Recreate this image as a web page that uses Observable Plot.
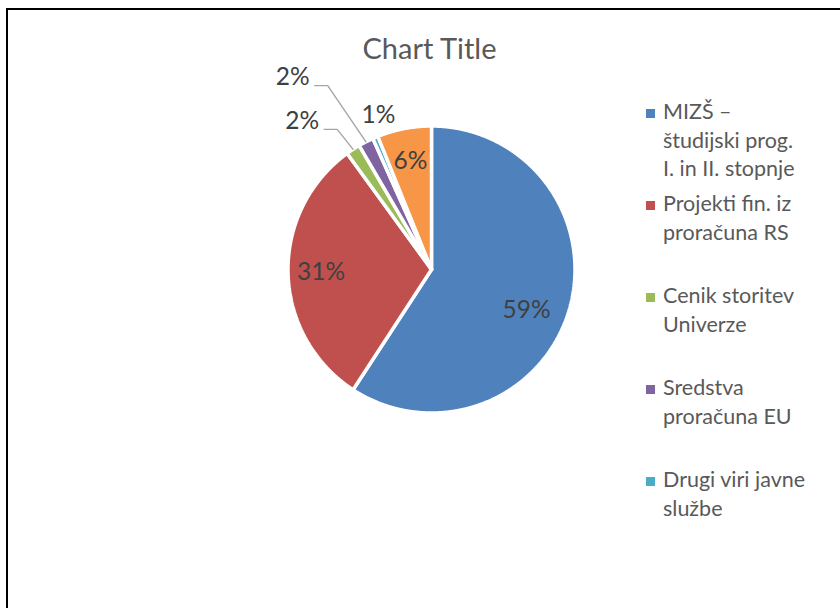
<!DOCTYPE html>
<html>
<head>
<meta charset="utf-8">
<script src="https://cdn.jsdelivr.net/npm/d3@7"></script>
<script src="https://cdn.jsdelivr.net/npm/@observablehq/plot@0.6"></script>
<style>
  html, body { margin: 0; padding: 0; background: #fff; }
  #wrap { position: relative; width: 840px; height: 608px; overflow: hidden; font-family: Lato, "Open Sans", sans-serif; }
  #frame { position: absolute; left: 6px; top: 8px; width: 1000px; height: 1000px; border-left: 2px solid #000; border-top: 2px solid #000; }
  #plot { position: absolute; left: 0; top: 0; }
  #title { position: absolute; left: 0; top: 33px; width: 859px; text-align: center; font-size: 29px; line-height: 29px; color: #595959; }
  #legend { position: absolute; left: 646px; top: 97px; }
  .entry { position: absolute; left: 0; display: flex; align-items: flex-start; }
  .sw { width: 9px; height: 9px; margin-top: 11.5px; margin-right: 8px; flex: none; }
  .lab { font-size: 21.5px; line-height: 28.5px; color: #595959; white-space: pre; }
</style>
</head>
<body>
<div id="wrap">
  <div id="frame"></div>
  <div id="plot"></div>
  <div id="title">Chart Title</div>
  <div id="legend"></div>
</div>
<script>
// ---- data ----
const categories = [
  "MIZŠ – študijski prog. I. in II. stopnje",
  "Projekti fin. iz proračuna RS",
  "Cenik storitev Univerze",
  "Sredstva proračuna EU",
  "Drugi viri javne službe",
  "Ostalo"
];
const values = [59.2, 30.8, 1.6, 1.7, 0.6, 6.1];
const colors = ["#4F81BD", "#C0504D", "#9BBB59", "#8064A2", "#4BACC6", "#F79646"];
const legendLabels = [
  "MIZŠ –\nštudijski prog.\nI. in II. stopnje",
  "Projekti fin. iz\nproračuna RS",
  "Cenik storitev\nUniverze",
  "Sredstva\nproračuna EU",
  "Drugi viri javne\nslužbe"
];

// ---- layout ----
const W = 840, H = 608;
const CX = 431, CY = 269, R = 143.5;   // pie centre (px) and radius
const insideK = 0.77;
const placement = {                     // label offsets from slice mid-angle (deg) and radius factor
  "MIZŠ – študijski prog. I. in II. stopnje": {da: 6.5, k: 0.72, leader: false},
  "Cenik storitev Univerze": {da: -8, k: 1.37, leader: true},
  "Sredstva proračuna EU": {da: -8.7, k: 1.65, leader: true},
  "Drugi viri javne službe": {da: 4.1, k: 1.14, leader: false}
};

const rows = categories.map((c, i) => ({cat: c, value: values[i]}));
const total = d3.sum(values);
const arcs = d3.pie().sort(null).value(d => d.value)(rows);
const polar = (a, r) => ({x: r * Math.sin(a), y: r * Math.cos(a)});

const slicePts = [];
for (const a of arcs) {
  const cat = a.data.cat;
  const n = Math.max(2, Math.ceil((a.endAngle - a.startAngle) / (Math.PI / 720)));
  slicePts.push({cat, x: 0, y: 0});
  for (let j = 0; j <= n; j++) {
    const t = a.startAngle + (a.endAngle - a.startAngle) * j / n;
    slicePts.push({cat, ...polar(t, R)});
  }
  slicePts.push({cat, x: 0, y: 0});
}

const labels = [];
const leaders = [];
for (const a of arcs) {
  const cat = a.data.cat;
  const mid = (a.startAngle + a.endAngle) / 2;
  const text = Math.round(a.data.value / total * 100) + "%";
  const p = placement[cat];
  if (p) {
    const pos = polar(mid + p.da * Math.PI / 180, R * p.k);
    labels.push({cat, text, ...pos});
    if (p.leader) {
      const s = {x: pos.x + 22, y: pos.y - 8};
      const e = {x: pos.x + 35, y: pos.y - 8};
      const t = polar(mid, R * 1.0);
      leaders.push({cat, ...s}, {cat, ...e}, {cat, ...t});
    }
  } else {
    labels.push({cat, text, ...polar(mid, R * insideK)});
  }
}

const chart = Plot.plot({
  width: W,
  height: H,
  margin: 0,
  x: {domain: [-CX, W - CX], axis: null},
  y: {domain: [CY - H, CY], axis: null},
  color: {domain: categories, range: colors},
  style: {background: "transparent", overflow: "visible"},
  marks: [
    Plot.line(slicePts, {x: "x", y: "y", z: "cat", fill: "cat", stroke: "white", strokeWidth: 3.5, strokeLinejoin: "miter", curve: "linear"}),
    Plot.line(leaders, {x: "x", y: "y", z: "cat", stroke: "#A6A6A6", strokeWidth: 1.4, curve: "linear"}),
    Plot.text(labels, {x: "x", y: "y", text: "text", fill: "#404040", fontSize: 24.5, fontFamily: "Lato, sans-serif", textAnchor: "middle", lineAnchor: "middle"})
  ]
});
document.getElementById("plot").appendChild(chart);

const legend = document.getElementById("legend");
legendLabels.forEach((lab, i) => {
  const e = document.createElement("div");
  e.className = "entry";
  e.style.top = (i * 92) + "px";
  const sw = document.createElement("div");
  sw.className = "sw";
  sw.style.background = colors[i];
  const t = document.createElement("div");
  t.className = "lab";
  t.textContent = lab;
  e.appendChild(sw);
  e.appendChild(t);
  legend.appendChild(e);
});
</script>
</body>
</html>
